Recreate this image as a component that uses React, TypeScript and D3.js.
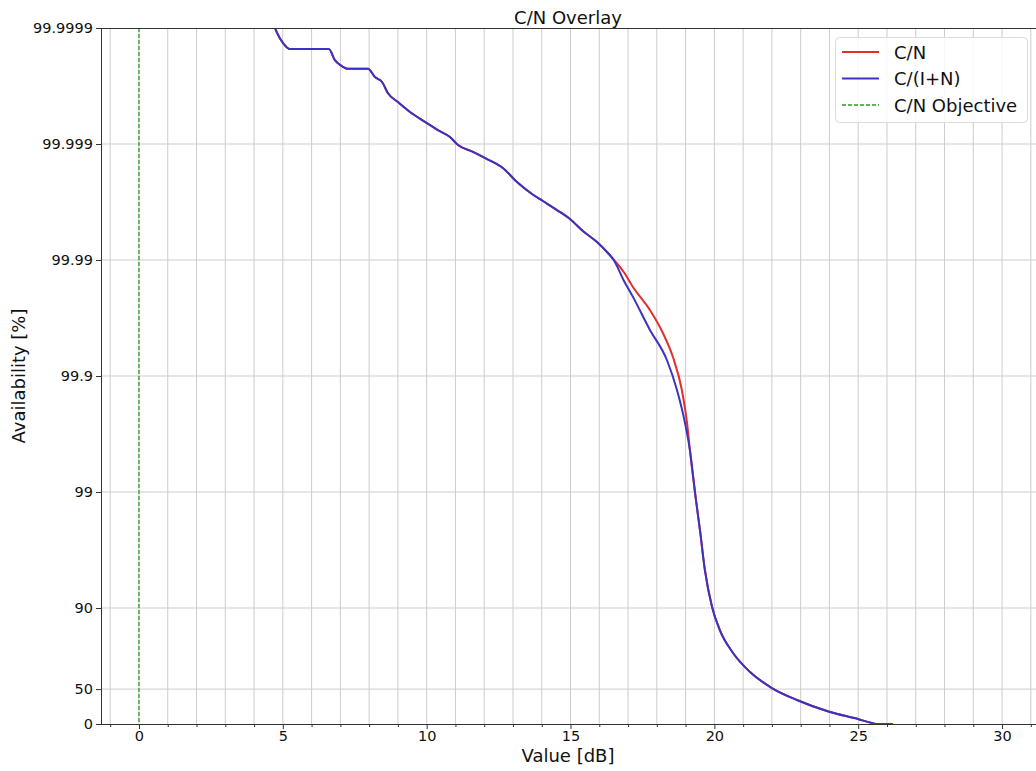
import React, { useEffect, useRef } from 'react';
import * as d3 from 'd3';

// C/N curve (red): value in dB and availability in %
const cnDb = [4.73, 4.80, 5.01, 5.25, 6.60, 6.81, 6.99, 7.26, 7.96, 8.20, 8.45, 8.65, 9.00, 9.42, 10.01, 10.39, 10.81, 11.09, 11.61, 12.10, 12.65, 13.14, 13.66, 14.04, 14.53, 14.98, 15.43, 15.92, 16.30, 16.48, 16.85, 17.17, 17.76, 18.21, 18.56, 18.87, 19.05, 19.15, 19.36, 19.50, 19.67, 19.92, 20.19, 20.65, 21.24, 22.00, 22.87, 24.02, 24.99, 25.48, 25.65, 26.20];
const cnAvail = [99.9999, 99.99989, 99.999865, 99.999848, 99.999848, 99.999811, 99.999792, 99.999775, 99.999775, 99.999736, 99.999708, 99.999637, 99.999565, 99.99947, 99.99934, 99.99924, 99.99913, 99.99898, 99.99883, 99.99865, 99.99839, 99.99787, 99.9973, 99.9969, 99.99629, 99.99557, 99.99438, 99.993, 99.99129, 99.9902, 99.9873, 99.9829, 99.973, 99.9574, 99.9314, 99.868, 99.746, 99.565, 98.83, 97.87, 95.3, 90.2, 84.51, 75.57, 64.36, 51.02, 37.91, 21.15, 9.43, 1.96, 0, 0];

// C/(I+N) curve (blue)
const cinDb = [4.73, 4.80, 5.01, 5.25, 6.60, 6.81, 6.99, 7.26, 7.96, 8.20, 8.45, 8.65, 9.00, 9.42, 10.01, 10.39, 10.81, 11.09, 11.61, 12.10, 12.65, 13.14, 13.66, 14.04, 14.53, 14.98, 15.43, 15.92, 16.30, 16.48, 16.85, 17.17, 17.76, 18.35, 18.70, 18.98, 19.15, 19.36, 19.50, 19.67, 19.92, 20.19, 20.65, 21.24, 22.00, 22.87, 24.02, 24.99, 25.48, 25.65, 26.20];
const cinAvail = [99.9999, 99.99989, 99.999865, 99.999848, 99.999848, 99.999811, 99.999792, 99.999775, 99.999775, 99.999736, 99.999708, 99.999637, 99.999565, 99.99947, 99.99934, 99.99924, 99.99913, 99.99898, 99.99883, 99.99865, 99.99839, 99.99787, 99.9973, 99.9969, 99.99629, 99.99557, 99.99438, 99.993, 99.99129, 99.9902, 99.9850, 99.9792, 99.9599, 99.9272, 99.868, 99.746, 99.565, 98.83, 97.87, 95.3, 90.2, 84.51, 75.57, 64.36, 51.02, 37.91, 21.15, 9.43, 1.96, 0, 0];

const objectiveDb = 0;

const xTicks = [0, 5, 10, 15, 20, 25, 30];
const yTickValues = [0, 50, 90, 99, 99.9, 99.99, 99.999, 99.9999];
const yTickLabels = ['0', '50', '90', '99', '99.9', '99.99', '99.999', '99.9999'];
const legendLabels = ['C/N', 'C/(I+N)', 'C/N Objective'];

const RED = '#e0302c';
const BLUE = '#3a33c4';
const GREEN = '#2e9a2e';
const FONT = '"DejaVu Sans", sans-serif';

const App = () => {
  const svgRef = useRef<SVGSVGElement>(null);

  useEffect(() => {
    const width = 1036;
    const height = 771;
    const left = 101, right = 1036, top = 28, bottom = 724;

    svgRef.current!.innerHTML = '';
    const svg = d3.select(svgRef.current).attr('width', width).attr('height', height);

    const x = d3.scaleLinear().domain([-1.32, 31.18]).range([left, right]);
    // availability axis: log scale on the unavailability (100 - A)
    const yLog = d3.scaleLog().domain([100, 0.0001]).range([bottom, top]);
    const y = (a: number) => yLog(Math.max(100 - a, 1e-9));

    svg.append('rect').attr('width', width).attr('height', height).attr('fill', '#fff');

    // grid
    const minor = d3.range(-1, 32);
    svg.append('g').selectAll('line').data(minor).enter().append('line')
      .attr('x1', d => x(d)).attr('x2', d => x(d))
      .attr('y1', top).attr('y2', bottom)
      .attr('stroke', '#cdcdcd').attr('stroke-width', 1);
    svg.append('g').selectAll('line').data(yTickValues.slice(1, -1)).enter().append('line')
      .attr('x1', left).attr('x2', right)
      .attr('y1', d => y(d)).attr('y2', d => y(d))
      .attr('stroke', '#cdcdcd').attr('stroke-width', 1);

    svg.append('defs').append('clipPath').attr('id', 'plotclip')
      .append('rect').attr('x', left).attr('y', top).attr('width', right - left).attr('height', bottom - top);

    const plot = svg.append('g').attr('clip-path', 'url(#plotclip)');

    // objective
    plot.append('line')
      .attr('x1', x(objectiveDb)).attr('x2', x(objectiveDb))
      .attr('y1', top).attr('y2', bottom)
      .attr('stroke', GREEN).attr('stroke-width', 1.3).attr('stroke-dasharray', '4,2');

    const line = d3.line<[number, number]>()
      .x(d => x(d[0]))
      .y(d => y(d[1]))
      .curve(d3.curveMonotoneX);

    plot.append('path')
      .attr('d', line(cnDb.map((v, i) => [v, cnAvail[i]]) as [number, number][]))
      .attr('fill', 'none').attr('stroke', RED).attr('stroke-width', 2);
    plot.append('path')
      .attr('d', line(cinDb.map((v, i) => [v, cinAvail[i]]) as [number, number][]))
      .attr('fill', 'none').attr('stroke', BLUE).attr('stroke-width', 2);

    // axes
    const xAxis = svg.append('g')
      .attr('transform', `translate(0,${bottom})`)
      .call(d3.axisBottom(x).tickValues(xTicks).tickSize(5).tickPadding(2).tickFormat(d3.format('d')));
    svg.append('g')
      .attr('transform', `translate(0,${bottom})`)
      .call(d3.axisBottom(x).tickValues(minor.filter(d => d % 5 !== 0)).tickSize(3).tickFormat(() => ''))
      .select('.domain').remove();

    const yAxis = svg.append('g')
      .attr('transform', `translate(${left},0)`)
      .call(d3.axisLeft(yLog).tickValues(yTickValues.map(v => Math.max(100 - v, 1e-9)))
        .tickSize(5).tickPadding(3).tickFormat((_, i) => yTickLabels[i]));

    svg.selectAll('.tick line').attr('stroke', '#333');
    svg.selectAll('.tick text').attr('fill', '#111').style('font-family', FONT).style('font-size', '14.5px');
    xAxis.select('.domain').remove();
    yAxis.select('.domain').remove();

    // spines
    svg.append('rect')
      .attr('x', left + 0.5).attr('y', top + 0.5)
      .attr('width', right - left).attr('height', bottom - top)
      .attr('fill', 'none').attr('stroke', '#333').attr('stroke-width', 1);

    // labels
    svg.append('text').attr('x', 568).attr('y', 24).attr('text-anchor', 'middle')
      .style('font-family', FONT).style('font-size', '18px').attr('fill', '#111').text('C/N Overlay');
    svg.append('text').attr('x', 568).attr('y', 762).attr('text-anchor', 'middle')
      .style('font-family', FONT).style('font-size', '18px').attr('fill', '#111').text('Value [dB]');
    svg.append('text').attr('transform', `translate(25,${(top + bottom) / 2}) rotate(-90)`).attr('text-anchor', 'middle')
      .style('font-family', FONT).style('font-size', '18px').attr('fill', '#111').text('Availability [%]');

    // legend
    const lg = svg.append('g');
    lg.append('rect').attr('x', 835.5).attr('y', 37.5).attr('width', 192).attr('height', 85).attr('rx', 4)
      .attr('fill', '#fff').attr('fill-opacity', 0.85).attr('stroke', '#dcdcdc');
    const colors = [RED, BLUE, GREEN];
    legendLabels.forEach((lab, i) => {
      const ly = 52 + i * 26.5;
      lg.append('line').attr('x1', 842).attr('x2', 879).attr('y1', ly).attr('y2', ly)
        .attr('stroke', colors[i]).attr('stroke-width', i === 2 ? 1.3 : 1.8)
        .attr('stroke-dasharray', i === 2 ? '4,2' : null);
      lg.append('text').attr('x', 894).attr('y', ly + 6.5)
        .style('font-family', FONT).style('font-size', '18px').attr('fill', '#111').text(lab);
    });
  }, []);

  return (
    <svg ref={svgRef} style={{ position: 'absolute', left: 0, top: 0 }}></svg>
  );
};

export default App;
